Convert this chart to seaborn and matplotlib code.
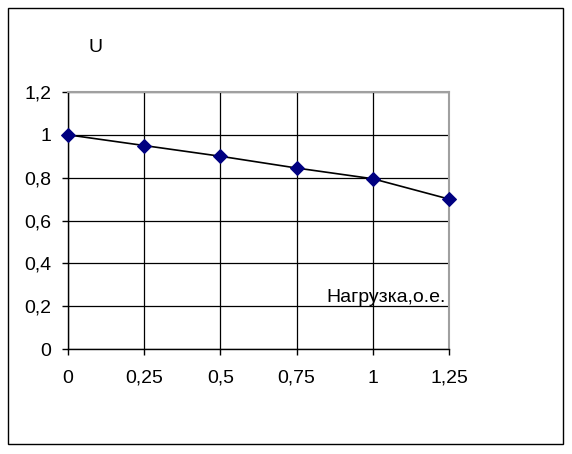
import matplotlib
matplotlib.use("Agg")
import matplotlib.pyplot as plt
from matplotlib.patches import Rectangle
import seaborn as sns
import pandas as pd

# данные
nagruzka = [0, 0.25, 0.5, 0.75, 1.0, 1.25]
napryazhenie = [1.0, 0.95, 0.9, 0.845, 0.795, 0.7]
x_ticks = [0, 0.25, 0.5, 0.75, 1.0, 1.25]
x_labels = ["0", "0,25", "0,5", "0,75", "1", "1,25"]
y_ticks = [0, 0.2, 0.4, 0.6, 0.8, 1.0, 1.2]
y_labels = ["0", "0,2", "0,4", "0,6", "0,8", "1", "1,2"]

df = pd.DataFrame({"x": nagruzka, "U": napryazhenie})

sns.set_style("white")
plt.rcParams["font.family"] = ["Liberation Sans", "DejaVu Sans"]
plt.rcParams["text.color"] = "black"
plt.rcParams["xtick.color"] = "black"
plt.rcParams["ytick.color"] = "black"

fig = plt.figure(figsize=(5.72, 4.54), dpi=100)
ax = fig.add_axes([68 / 572, 105 / 454, 381 / 572, 257 / 454])

# рамка вокруг всей диаграммы
fig.patches.append(Rectangle((8 / 572, 10 / 454), 555 / 572, 436 / 454,
                             transform=fig.transFigure, fill=False,
                             edgecolor="black", linewidth=1))

sns.lineplot(data=df, x="x", y="U", ax=ax, color="black", linewidth=1.2,
             marker="D", markersize=7, markerfacecolor="#000080",
             markeredgecolor="#000080", clip_on=False, zorder=5)

ax.set_xlim(0, 1.25)
ax.set_ylim(0, 1.2)
ax.set_xticks(x_ticks)
ax.set_xticklabels(x_labels, fontsize=14)
ax.set_yticks(y_ticks)
ax.set_yticklabels(y_labels, fontsize=14)
ax.grid(True, color="black", linewidth=0.9)
ax.tick_params(axis="both", direction="out", length=4, width=1, color="black",
               left=True, bottom=True)
ax.tick_params(axis="x", pad=11)
ax.tick_params(axis="y", pad=8)
ax.set_xlabel("")
ax.set_ylabel("")

for s in ["left", "bottom"]:
    ax.spines[s].set_color("black")
    ax.spines[s].set_linewidth(1)
for s in ["top", "right"]:
    ax.spines[s].set_color("#a0a0a0")
    ax.spines[s].set_linewidth(1.5)

fig.text(96 / 572, 1 - 48 / 454, "U", fontsize=14, ha="center", va="center")
ax.text(1.24, 0.24, "Нагрузка,о.е.", fontsize=14, ha="right", va="center")

fig.savefig("out.png", dpi=100)
